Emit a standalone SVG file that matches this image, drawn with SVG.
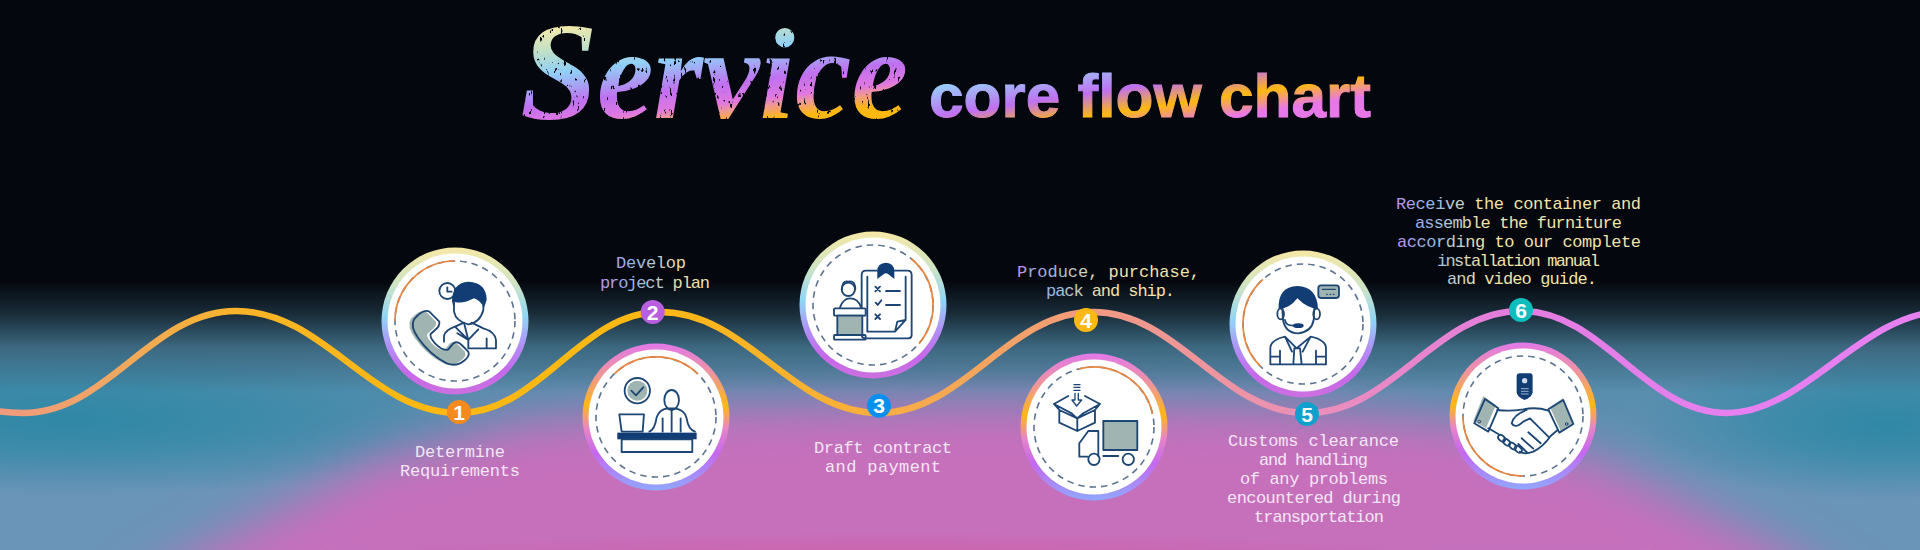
<svg xmlns="http://www.w3.org/2000/svg" width="1920" height="550" viewBox="0 0 1920 550">
<style>
text{font-family:"Liberation Mono","DejaVu Sans Mono",monospace}
.lab{font-size:17px}
.pale{fill:#f4e6f5}
.num{font-family:"Liberation Sans",Arial,sans-serif;font-weight:700;font-size:21px;fill:#fff;text-anchor:middle}
.ro{fill:url(#ringOdd)}
.re{fill:url(#ringEven)}
.disc{fill:#fff}
.dash{fill:none;stroke:#5b7392;stroke-width:1.6;stroke-dasharray:6.5 5}
.arc{fill:none;stroke:#e8853f;stroke-width:1.7}
.ic{fill:none;stroke:#1d4674;stroke-width:5.5;stroke-linejoin:round;stroke-linecap:round}
.w{fill:#fff}
.g{fill:#a0b4b2}
.gs{fill:#a0b4b2;stroke:#1d4674;stroke-width:5.5;stroke-linejoin:round}
.n{fill:#123d74}
</style>
<defs>
<linearGradient id="base" x1="0" y1="340" x2="0" y2="490" gradientUnits="userSpaceOnUse">
<stop offset="0" stop-color="#4f8aa8"/><stop offset="1" stop-color="#6a94b8"/>
</linearGradient>
<linearGradient id="dark" x1="0" y1="280" x2="0" y2="392" gradientUnits="userSpaceOnUse">
<stop offset="0" stop-color="#04070d"/><stop offset=".3" stop-color="#04070d" stop-opacity=".72"/><stop offset=".6" stop-color="#04070d" stop-opacity=".26"/><stop offset="1" stop-color="#04070d" stop-opacity="0"/>
</linearGradient>
<radialGradient id="tealL"><stop offset="0" stop-color="#2f88a6"/><stop offset=".4" stop-color="#2f88a6" stop-opacity=".7"/><stop offset="1" stop-color="#2f88a6" stop-opacity="0"/></radialGradient>
<radialGradient id="deep"><stop offset="0" stop-color="#cf5ea6"/><stop offset="1" stop-color="#cf5ea6" stop-opacity="0"/></radialGradient>
<filter id="soft" x="0" y="330" width="1920" height="300" filterUnits="userSpaceOnUse"><feGaussianBlur stdDeviation="24"/></filter>
<linearGradient id="wave" x1="0" y1="0" x2="1920" y2="0" gradientUnits="userSpaceOnUse">
<stop offset="0" stop-color="#f09a80"/><stop offset=".0625" stop-color="#f0a860"/><stop offset=".125" stop-color="#f8b428"/><stop offset=".21" stop-color="#fdb813"/><stop offset=".34" stop-color="#fdb813"/><stop offset=".458" stop-color="#f8ae40"/><stop offset=".57" stop-color="#f09a80"/><stop offset=".68" stop-color="#ec90b8"/><stop offset=".79" stop-color="#e27ce0"/><stop offset=".9" stop-color="#e680f0"/><stop offset="1" stop-color="#e680f0"/>
</linearGradient>
<linearGradient id="ringOdd" x1="0" y1="0" x2="0" y2="1">
<stop offset="0" stop-color="#f6e8a6"/><stop offset=".25" stop-color="#cfe4c4"/><stop offset=".47" stop-color="#8fd6f6"/><stop offset=".68" stop-color="#b48cf6"/><stop offset=".85" stop-color="#c668ea"/><stop offset="1" stop-color="#cc70e0"/>
</linearGradient>
<linearGradient id="ringEven" x1="0" y1="0" x2="0" y2="1">
<stop offset="0" stop-color="#e278ea"/><stop offset=".2" stop-color="#ee94a0"/><stop offset=".42" stop-color="#ffb813"/><stop offset=".58" stop-color="#e884c8"/><stop offset=".75" stop-color="#c468f0"/><stop offset="1" stop-color="#90a8ff"/>
</linearGradient>
<linearGradient id="tSvc" x1="560" y1="25" x2="574.5" y2="148" gradientUnits="userSpaceOnUse">
<stop offset="0" stop-color="#f7e9a8"/><stop offset=".2" stop-color="#bfe0c8"/><stop offset=".38" stop-color="#90d0f8"/><stop offset=".63" stop-color="#c070f0"/><stop offset=".78" stop-color="#e078e0"/><stop offset=".85" stop-color="#f09a90"/><stop offset=".95" stop-color="#ffb810"/><stop offset="1" stop-color="#ffb810"/>
</linearGradient>
<linearGradient id="tCore" x1="930" y1="85" x2="944.4" y2="180.8" gradientUnits="userSpaceOnUse">
<stop offset="0" stop-color="#95d5fa"/><stop offset=".33" stop-color="#c070f0"/><stop offset=".57" stop-color="#ffb90f"/><stop offset=".78" stop-color="#e878e8"/><stop offset="1" stop-color="#e878e8"/>
</linearGradient>
<linearGradient id="tA" x1="0" x2="110" y1="0" y2="0" gradientUnits="userSpaceOnUse">
<stop offset="0" stop-color="#b890f0"/><stop offset=".33" stop-color="#92b8e8"/><stop offset=".75" stop-color="#efe0aa"/><stop offset="1" stop-color="#f5e6a8"/>
</linearGradient>
<linearGradient id="t2" href="#tA" x1="600" x2="710" gradientUnits="userSpaceOnUse"/>
<linearGradient id="t4" href="#tA" x1="1017" x2="1127" gradientUnits="userSpaceOnUse"/>
<linearGradient id="t6" href="#tA" x1="1396" x2="1506" gradientUnits="userSpaceOnUse"/>
<filter id="worn" x="480" y="0" width="460" height="150" filterUnits="userSpaceOnUse">
<feTurbulence type="fractalNoise" baseFrequency=".3 .12" numOctaves="3" seed="7"/>
<feColorMatrix values="0 0 0 0 0 0 0 0 0 0 0 0 0 0 0 0 0 0 -14 4.5"/>
<feComposite in="SourceGraphic" operator="out"/>
</filter>
</defs>

<rect width="1920" height="550" fill="url(#base)"/>
<ellipse cx="70" cy="420" rx="440" ry="75" fill="url(#tealL)"/>
<ellipse cx="1890" cy="425" rx="260" ry="75" fill="url(#tealL)"/>
<polygon points="120,600 200,550 378,460 520,422 700,407 990,402 1280,407 1460,422 1600,462 1783,550 1860,600" fill="#c670bc" filter="url(#soft)"/>
<ellipse cx="900" cy="566" rx="620" ry="36" fill="url(#deep)"/>
<rect y="280" width="1920" height="112" fill="url(#dark)"/>
<rect width="1920" height="281" fill="#04070d"/>

<g id="title">
<g filter="url(#worn)">
<text x="520" y="119" font-size="140" font-weight="700" font-style="italic" fill="url(#tSvc)" style="font-family:'Liberation Serif',serif">S</text>
<text x="597" y="118" font-size="130" font-weight="700" font-style="italic" fill="url(#tSvc)" textLength="311" lengthAdjust="spacingAndGlyphs" style="font-family:'Liberation Serif',serif">ervice</text>
</g>
<text x="929" y="117" font-size="62" font-weight="700" fill="url(#tCore)" stroke="url(#tCore)" stroke-width="1" textLength="442" lengthAdjust="spacingAndGlyphs" style="font-family:'Liberation Sans',Arial,sans-serif">core flow chart</text>
</g>

<g id="connectors">
<path id="wave-line" fill="none" stroke="url(#wave)" stroke-width="6.5" d="M-40 402C-20 409 0 413 23 413C108 413 151 311 236 311C325 311 370 413 459 413C540 413 580 312 660 312C748 312 791 413 879 413C965 413 1007 312 1093 312C1179 312 1221 413 1307 413C1393 413 1435 311 1521 311C1603 311 1645 413 1727 413C1805 413 1860 313 1945 311"/>
</g>

<g id="node1">
<circle class="ro" cx="455" cy="321" r="73.5"/><circle class="disc" cx="455" cy="321" r="67.5"/>
<circle class="dash" cx="455" cy="321" r="60"/>
<path class="arc" d="M395 321A60 60 0 0 1 455 261"/>
<g transform="translate(340 230) scale(.3333)">
<path class="g" d="M212 268Q240 235 258 245L288 275Q290 290 275 300L262 312Q258 320 275 340Q300 365 315 358L330 340Q342 332 355 345L375 365Q380 378 365 390Q340 412 310 400Q260 375 225 325Q200 290 212 268Z"/>
<path class="ic" d="M222 268Q250 235 268 245L298 275Q300 290 285 300L272 312Q268 320 285 340Q310 365 325 358L340 340Q352 332 365 345L385 365Q390 378 375 390Q350 412 320 400Q270 375 235 325Q210 290 222 268Z"/>
<circle class="ic" cx="322" cy="183" r="24"/><path class="ic" d="M322 172V185H335"/>
<path class="n" d="M336 212Q338 158 385 155Q440 158 440 210L432 234Q422 212 402 205Q370 222 345 216L340 232Z"/>
<path class="ic" d="M342 215V245Q348 275 385 283Q420 278 430 240V215"/>
<path class="ic" d="M312 335V318Q316 300 345 290L372 278L385 330L352 310M345 290L385 330L415 298M395 278L430 295Q465 305 468 330V355H385V330M440 325V355"/>
</g>
<circle cx="459" cy="412" r="12" fill="#f58a1f"/><text class="num" x="459" y="419.5">1</text>
<g class="pale"><text class="lab" x="415" y="456.7" textLength="90">Determine</text>
<text class="lab" x="400" y="475.7" textLength="120">Requirements</text></g>
</g>

<g id="node2">
<circle class="re" cx="656" cy="417" r="73.5"/><circle class="disc" cx="656" cy="417" r="67.5"/>
<circle class="dash" cx="656" cy="417" r="60"/>
<path class="arc" d="M614.3 373.8A60 60 0 0 1 697.7 373.8"/>
<g transform="translate(340 230) scale(.3333)">
<circle class="ic" cx="892" cy="482" r="38"/><circle class="g" cx="892" cy="482" r="30"/>
<path class="ic" d="M874 482L888 496L910 472"/>
<path class="ic" d="M838 553H912L908 605H845Z"/>
<rect class="n" x="832" y="608" width="238" height="20"/>
<rect class="ic" x="845" y="628" width="212" height="38"/>
<ellipse class="ic" cx="995" cy="510" rx="22" ry="30"/>
<path class="ic" d="M928 605Q945 598 950 562Q958 537 985 535H1005Q1035 540 1040 565Q1045 598 1065 605M968 565V605M1022 565V605M995 538V605"/>
</g>
<circle cx="652.7" cy="312" r="12" fill="#b85fe0"/><text class="num" x="652.7" y="319.5">2</text>
<g fill="url(#t2)"><text class="lab" x="616" y="268" textLength="70">Develop</text>
<text class="lab" x="600" y="287.7" textLength="110">project plan</text></g>
</g>

<g id="node3">
<circle class="ro" cx="873" cy="305" r="73.5"/><circle class="disc" cx="873" cy="305" r="67.5"/>
<circle class="dash" cx="873" cy="305" r="60"/>
<path class="arc" d="M911.6 259A60 60 0 0 1 919 343.6"/>
<g transform="translate(760 230) scale(.3333)">
<path class="ic" d="M318 122H442Q455 122 455 135V315Q455 325 445 325H318Q305 325 305 315V135Q305 122 318 122ZM322 140V305H405L437 270V140M405 305L412 275L437 270"/>
<path class="n" d="M352 122Q352 100 378 98Q402 100 403 122V147L388 135Q378 125 368 135L352 147Z"/>
<path class="ic" d="M346 170L360 184M360 170L346 184M378 183H420M347 218L353 225L364 211M378 225H420M346 253L360 267M360 253L346 267"/>
<circle class="ic" cx="265" cy="178" r="20"/>
<path class="ic" d="M240 232Q250 205 270 205Q295 205 303 232M246 178Q246 150 265 155Q286 150 286 178"/>
<rect class="w" x="222" y="235" width="95" height="22" rx="3"/><rect class="ic" x="222" y="235" width="95" height="22" rx="3"/>
<rect class="gs" x="232" y="257" width="75" height="58"/>
<rect class="ic" x="222" y="315" width="95" height="14" rx="3"/>
</g>
<circle cx="879" cy="405.7" r="12" fill="#0a8fef"/><text class="num" x="879" y="413">3</text>
<g class="pale"><text class="lab" x="814" y="453" textLength="138">Draft contract</text>
<text class="lab" x="825" y="472" textLength="116">and payment</text></g>
</g>

<g id="node4">
<circle class="re" cx="1094" cy="427" r="73.5"/><circle class="disc" cx="1094" cy="427" r="67.5"/>
<circle class="dash" cx="1094" cy="427" r="60"/>
<path class="arc" d="M1078.5 369A60 60 0 0 1 1152.5 413.5"/>
<g transform="translate(760 230) scale(.3333)">
<path class="ic" d="M898 540V578L952 603L1005 578V540M952 565V603M898 540L952 565L1005 540M898 540L882 522L925 498M1005 540L1020 522L975 498M882 522L935 550L952 565L970 550L1020 522"/>
<path class="ic" d="M945 490V510H936L950 528L965 510H955V490M942 464H960M942 472H960M942 481H960" style="stroke-width:4"/>
<rect class="gs" x="1030" y="573" width="102" height="87"/>
<path class="ic" d="M1015 603H985L958 640V680H983M1015 603V678M1030 678H1075"/>
<circle class="ic" cx="1002" cy="688" r="17"/><circle class="ic" cx="1105" cy="688" r="17"/>
</g>
<circle cx="1086" cy="320" r="12" fill="#fdb813"/><text class="num" x="1086" y="327.5">4</text>
<g fill="url(#t4)"><text class="lab" x="1017" y="276.7" textLength="183">Produce, purchase,</text>
<text class="lab" x="1046" y="295.7" textLength="129">pack and ship.</text></g>
</g>

<g id="node5">
<circle class="ro" cx="1303" cy="324" r="73.5"/><circle class="disc" cx="1303" cy="324" r="67.5"/>
<circle class="dash" cx="1303" cy="324" r="60"/>
<path class="arc" d="M1260.6 366.4A60 60 0 0 1 1262.9 279.4"/>
<g transform="translate(1190 180) scale(.3333)">
<ellipse class="ic" cx="272" cy="402" rx="10" ry="16"/><ellipse class="ic" cx="380" cy="402" rx="10" ry="16"/>
<path class="ic" d="M277 385L279 420Q287 460 325 460Q365 455 371 420L373 385"/>
<path class="n" d="M266 387Q263 320 322 318Q382 320 384 387Q352 385 322 355Q298 387 266 387Z"/>
<path class="ic" d="M285 420Q287 437 310 437"/><ellipse class="n" cx="325" cy="437" rx="16" ry="7"/>
<path class="ic" d="M241 553V505Q241 480 285 470L320 505L362 470Q408 480 408 505V553ZM313 505H330L335 553H310ZM270 512V553M378 512V553M241 530H270M378 530H408M285 470L306 515M362 470L338 515"/>
<rect class="gs" x="385" y="316" width="62" height="38" rx="8"/>
<path class="ic" d="M397 328H436M410 343H412M420 343H422M430 343H432" style="stroke-width:4"/>
</g>
<circle cx="1307" cy="414" r="12" fill="#0fa0cc"/><text class="num" x="1307" y="421.5">5</text>
<g class="pale"><text class="lab" x="1228" y="446" textLength="171">Customs clearance</text>
<text class="lab" x="1259" y="465" textLength="109">and handling</text>
<text class="lab" x="1240" y="484" textLength="148">of any problems</text>
<text class="lab" x="1227" y="503" textLength="174">encountered during</text>
<text class="lab" x="1254" y="522" textLength="130">transportation</text></g>
</g>

<g id="node6">
<circle class="re" cx="1523" cy="416" r="73.5"/><circle class="disc" cx="1523" cy="416" r="67.5"/>
<circle class="dash" cx="1523" cy="416" r="60"/>
<path class="arc" d="M1523 476A60 60 0 0 1 1463 416"/>
<g transform="translate(1190 180) scale(.3333)">
<path class="n" d="M980 590Q980 580 990 580H1020Q1028 580 1028 590V637Q1028 650 1004 660Q980 650 980 637Z"/>
<circle cx="1004" cy="602" r="8" fill="#cfd8e4"/><path d="M993 626H1016M993 634H1016M993 642H1016" stroke="#9fb3c8" stroke-width="3"/>
<path class="g" d="M880 648L918 675L888 745L850 722Z"/><path class="g" d="M1118 655L1080 682L1112 752L1150 728Z"/>
<path class="ic" d="M885 657L925 685L895 755L853 730ZM1120 660L1075 688L1108 758L1150 732Z"/>
<circle class="ic" cx="868" cy="725" r="4" style="stroke-width:3"/><circle class="ic" cx="1130" cy="732" r="4" style="stroke-width:3"/>
<path class="ic" d="M922 690Q960 695 1000 688Q1040 680 1075 692M1103 750L1082 768Q1060 800 1030 815Q1003 825 990 815M895 745L925 762M1010 690Q970 705 965 730Q975 748 1000 725L1020 715L1075 770M1052 790L1015 757M1030 806L995 775M1010 816L985 792"/>
<g class="ic"><ellipse cx="935" cy="775" rx="12" ry="8" transform="rotate(40 935 775)"/><ellipse cx="950" cy="787" rx="12" ry="8" transform="rotate(40 950 787)"/><ellipse cx="968" cy="798" rx="12" ry="8" transform="rotate(40 968 798)"/><ellipse cx="985" cy="808" rx="12" ry="8" transform="rotate(40 985 808)"/></g>
</g>
<circle cx="1521" cy="310" r="12" fill="#10bdbd"/><text class="num" x="1521" y="317.5">6</text>
<g fill="url(#t6)"><text class="lab" x="1396" y="209" textLength="245">Receive the container and</text>
<text class="lab" x="1415" y="228" textLength="207">assemble the furniture</text>
<text class="lab" x="1397" y="247" textLength="244">according to our complete</text>
<text class="lab" x="1437" y="266" textLength="163">installation manual</text>
<text class="lab" x="1447" y="284" textLength="150">and video guide.</text></g>
</g>
</svg>
